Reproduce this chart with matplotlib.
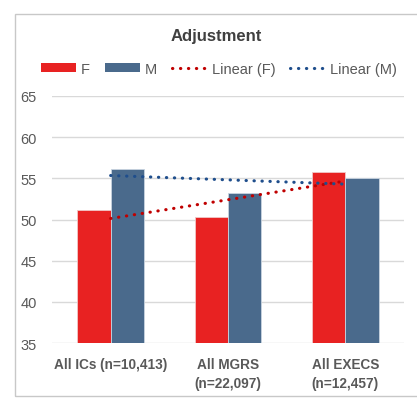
import numpy as np
import matplotlib
matplotlib.use("Agg")
import matplotlib.pyplot as plt
from matplotlib.patches import Patch, Rectangle
from matplotlib.lines import Line2D

categories = ["All ICs (n=10,413)", "All MGRS\n(n=22,097)", "All EXECS\n(n=12,457)"]
f_values = [51.2, 50.25, 55.75]
m_values = [56.15, 53.2, 55.1]
yticks = [35, 40, 45, 50, 55, 60, 65]
title = "Adjustment"

F_COL = "#E82222"
M_COL = "#4A6A8C"
FT_COL = "#C00000"
MT_COL = "#1F4E8C"
TXT = "#595959"

fig = plt.figure(figsize=(4.17, 4.02), dpi=100)
W, H = 417, 402
ax = fig.add_axes([52 / W, 1 - 344 / H, (404 - 52) / W, (344 - 97) / H])

# outer chart frame
fig.patches.append(Rectangle((15 / W, 1 - 397 / H), (420 - 15) / W, (397 - 15) / H,
                             transform=fig.transFigure, fill=False,
                             edgecolor="#C8C8C8", linewidth=1.0))

x = np.arange(len(categories))
bw = 0.284
ax.bar(x - bw / 2, f_values, bw, color=F_COL, edgecolor="#F0C8C8", linewidth=0.6, zorder=2)
ax.bar(x + bw / 2, m_values, bw, color=M_COL, edgecolor="#C8D4E0", linewidth=0.6, zorder=2)

dot = (0, (0.1, 2.45))
LW = 2.25
pf = np.polyfit(x, f_values, 1)
pm = np.polyfit(x, m_values, 1)
xt = np.array([x[0], x[-1]], dtype=float)
ax.plot(xt, np.polyval(pf, xt), color=FT_COL, lw=LW, linestyle=dot,
        dash_capstyle="round", zorder=3)
ax.plot(xt, np.polyval(pm, xt), color=MT_COL, lw=LW, linestyle=dot,
        dash_capstyle="round", zorder=3)

ax.set_xlim(-0.5, 2.5)
ax.set_ylim(35, 65)
ax.set_yticks(yticks)
ax.set_yticklabels([str(v) for v in yticks], fontsize=10.5, color=TXT, family="Liberation Sans")
ax.set_xticks(x)
ax.set_xticklabels(categories, fontsize=9.8, color=TXT, family="Liberation Sans",
                   fontweight="bold", linespacing=1.45)
ax.tick_params(axis="both", length=0)
ax.tick_params(axis="y", pad=11)
ax.tick_params(axis="x", pad=10)
ax.grid(axis="y", color="#D9D9D9", linewidth=1.0, zorder=0)
ax.set_axisbelow(True)
for s in ax.spines.values():
    s.set_visible(False)

fig.text(216 / W, 1 - 37 / H, title, ha="center", va="center", fontsize=12,
         fontweight="bold", color="#404040", family="Liberation Sans")

handles = [Patch(facecolor=F_COL), Patch(facecolor=M_COL),
           Line2D([0], [0], color=FT_COL, lw=LW, linestyle=dot, dash_capstyle="round"),
           Line2D([0], [0], color=MT_COL, lw=LW, linestyle=dot, dash_capstyle="round")]
labels = ["F", "M", "Linear (F)", "Linear (M)"]
leg = fig.legend(handles, labels, loc="center", bbox_to_anchor=(219 / W, 1 - 70 / H),
                 ncol=4, frameon=False, handlelength=2.4, handleheight=0.55,
                 handletextpad=0.35, columnspacing=1.0,
                 prop={"family": "Liberation Sans", "size": 10.5})
for t in leg.get_texts():
    t.set_color(TXT)

fig.savefig("out.png", dpi=100)
